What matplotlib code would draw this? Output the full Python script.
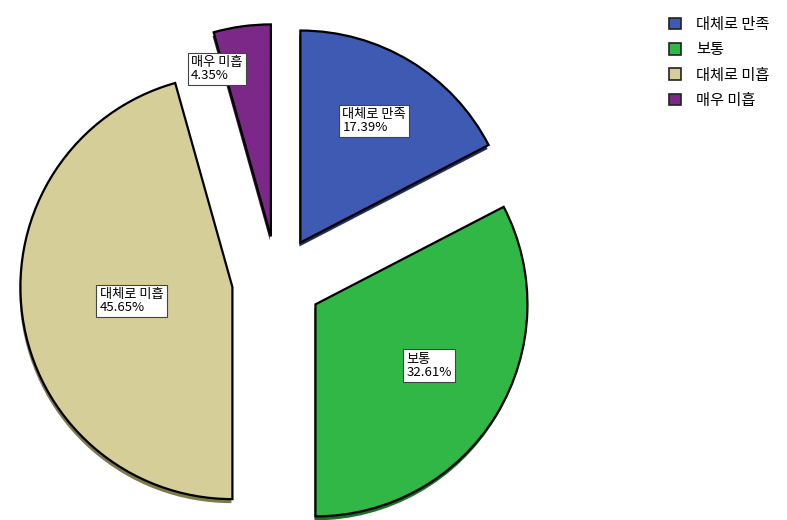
import matplotlib
matplotlib.use("Agg")
import matplotlib.pyplot as plt
import numpy as np
from matplotlib.patches import Patch

plt.rcParams['font.family'] = ['Noto Sans CJK KR', 'DejaVu Sans']

# data
categorias = ["대체로 만족", "보통", "대체로 미흡", "매우 미흡"]
porcentajes = [17.39, 32.61, 45.65, 4.35]
colores = ["#3f5ab3", "#30b746", "#d5ce98", "#7b2888"]
sombras = ["#1f2f6a", "#1b6e2a", "#7f7a4c", "#3f1346"]
legend_labels = ["대체로 만족", "보통", "대체로 미흡", "매우 미흡"]

fig = plt.figure(figsize=(7.87, 5.2), dpi=100)
ax = fig.add_axes([0, 0, 1, 1])

centro = (277, 520 - 281)
radio = 212
# en matplotlib el explode va en unidades de datos
explode = [45] * len(porcentajes)

# sombra (efecto 3D)
ax.pie(porcentajes, colors=sombras, startangle=90, counterclock=False,
       explode=explode, radius=radio, center=(centro[0] - 1, centro[1] - 4),
       wedgeprops=dict(linewidth=0), frame=True)

wedges, _ = ax.pie(porcentajes, colors=colores, startangle=90, counterclock=False,
                   explode=explode, radius=radio, center=centro,
                   wedgeprops=dict(edgecolor="black", linewidth=1.6), frame=True)

# etiquetas en cajas
distancias = [0.67, 0.61, 0.48, 0.83]
ajuste_ang = [0, 3, 0, 10]
for w, cat, p, d, a in zip(wedges, categorias, porcentajes, distancias, ajuste_ang):
    ang = np.deg2rad((w.theta1 + w.theta2) / 2 + a)
    cx, cy = w.center
    x = cx + d * radio * np.cos(ang)
    y = cy + d * radio * np.sin(ang)
    ax.text(x, y, f"{cat}\n{p:.2f}%", ha="center", va="center", fontsize=9.5,
            linespacing=1.0, multialignment="left",
            bbox=dict(boxstyle="square,pad=0.25", facecolor="white",
                      edgecolor="#444444", linewidth=0.8), zorder=5)

ax.set_xlim(0, 787)
ax.set_ylim(0, 520)
ax.set_aspect("auto")
ax.axis("off")

handles = [Patch(facecolor=c, edgecolor="#222222", linewidth=1.2) for c in colores]
fig.legend(handles, legend_labels, loc="upper left", bbox_to_anchor=(655 / 787, 1 - 2 / 520),
           frameon=False, fontsize=11, handlelength=0.8, handleheight=0.8,
           labelspacing=0.55, handletextpad=1.0)

fig.savefig("out.png", dpi=100)
